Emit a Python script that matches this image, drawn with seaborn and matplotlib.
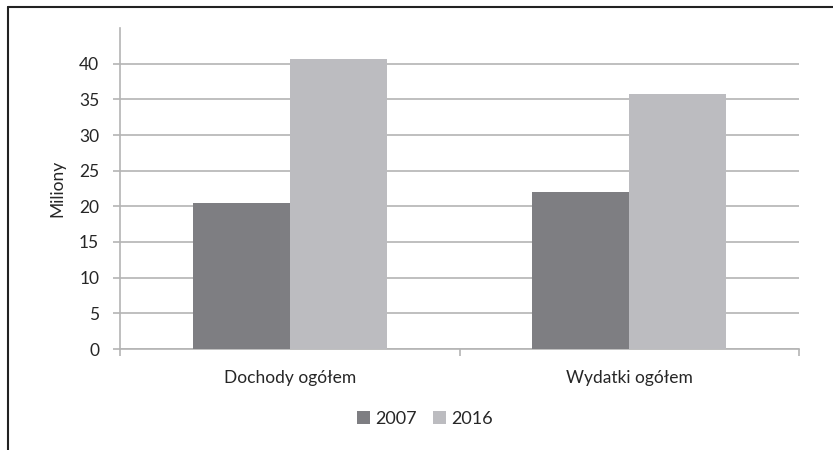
import pandas as pd
import seaborn as sns
import matplotlib.pyplot as plt
from matplotlib.lines import Line2D
from matplotlib.patches import Patch

# ---------- data ----------
categories = ["Dochody ogółem", "Wydatki ogółem"]
years = ["2007", "2016"]
values_2007 = [20.4, 22.0]
values_2016 = [40.6, 35.8]

df = pd.DataFrame({
    "Kategoria": categories * 2,
    "Rok": [years[0]] * 2 + [years[1]] * 2,
    "Wartosc": values_2007 + values_2016,
})

colors = {"2007": "#7e7e82", "2016": "#bcbcc0"}
grid_col = "#b4b4b4"
text_col = "#262626"

sns.set_style("white")
plt.rcParams["font.family"] = ["Lato", "DejaVu Sans"]

fig = plt.figure(figsize=(8.33, 4.5), dpi=100)
ax = fig.add_axes([120 / 833, 1 - 349 / 450, 679 / 833, 321 / 450])

sns.barplot(data=df, x="Kategoria", y="Wartosc", hue="Rok", hue_order=years,
            palette=colors, width=0.57, gap=0, saturation=1, ax=ax,
            legend=False, zorder=3)
for p in ax.patches:
    p.set_edgecolor("none")

ax.set_xlim(-0.5, 1.5)
ax.set_ylim(0, 45)
ax.set_yticks(range(0, 45, 5))
ax.yaxis.grid(True, color=grid_col, linewidth=1.2, zorder=0)
ax.set_axisbelow(True)

for s in ["top", "right"]:
    ax.spines[s].set_visible(False)
for s in ["left", "bottom"]:
    ax.spines[s].set_color(grid_col)
    ax.spines[s].set_linewidth(1.2)

ax.tick_params(axis="y", length=5, width=1.2, color=grid_col, pad=10,
               labelsize=12.5, labelcolor=text_col, left=True)
ax.set_xticks([-0.5, 0.5, 1.5], minor=True)
ax.tick_params(axis="x", which="minor", length=5, width=1.2, color=grid_col,
               bottom=True)
ax.tick_params(axis="x", which="major", length=0, pad=15, labelsize=12.5,
               labelcolor=text_col)

ax.set_xlabel("")
ax.set_ylabel("Miliony", fontsize=12.5, color=text_col, labelpad=10)

handles = [Patch(facecolor=colors[y], edgecolor="none") for y in years]
fig.legend(handles, years, loc="center", bbox_to_anchor=(425 / 833, 1 - 419 / 450),
           ncol=2, frameon=False, fontsize=13, handlelength=0.7, handleheight=0.7,
           handletextpad=0.3, columnspacing=0.9, labelcolor=text_col)

# page frame (left and top border lines of the scanned figure box)
fig.add_artist(Line2D([8 / 833, 8 / 833], [0, 1 - 7 / 450], color="#222222",
                      linewidth=1.5, transform=fig.transFigure))
fig.add_artist(Line2D([8 / 833, 1], [1 - 7 / 450, 1 - 7 / 450], color="#222222",
                      linewidth=1.5, transform=fig.transFigure))

fig.savefig("out.png", dpi=100)
